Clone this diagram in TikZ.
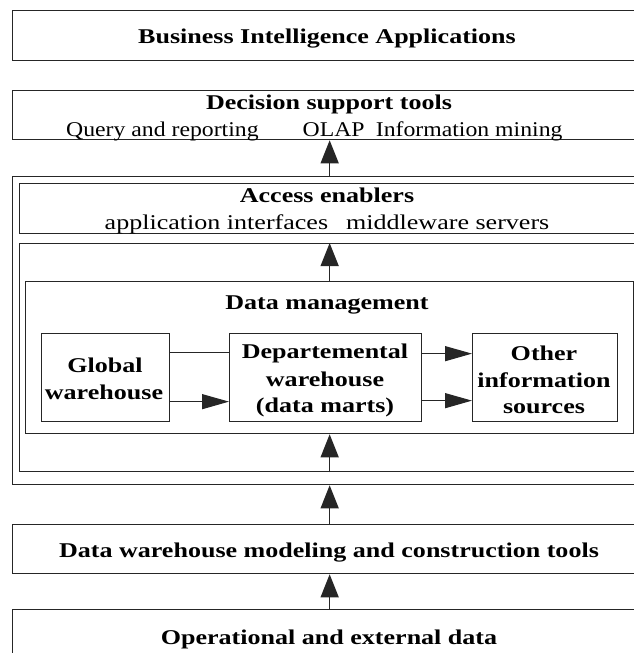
\documentclass[tikz,border=0pt]{standalone}
\usepackage{fontspec}
\setmainfont{Liberation Serif}
\usetikzlibrary{arrows.meta}
% labels are set slightly widened
\newcommand{\wide}[1]{\scalebox{1.24}[1]{#1}}
\newcommand{\semiwide}[1]{\scalebox{1.13}[1]{#1}}

\begin{document}
\begin{tikzpicture}[x=1pt,y=-1pt,
  box/.style={draw=black!85, line width=1.3pt, inner sep=0pt, anchor=north west},
  ttl/.style={anchor=base, inner sep=0pt, font=\fontsize{21}{24}\selectfont\bfseries},
  txt/.style={anchor=base, inner sep=0pt, font=\fontsize{21}{24}\selectfont},
  link/.style={draw=black!85, line width=1.3pt},
  varr/.style={link, -{Triangle[length=23pt,width=18pt]}},
  harr/.style={link, -{Triangle[length=27pt,width=15pt]}}]
\useasboundingbox (0,0) rectangle (634,653);
\clip (0,0) rectangle (634,653);

% layer boxes (they run past the right border)
\node[box, minimum width=634pt, minimum height=50pt] (bi)    at (12,10)  {};
\node[box, minimum width=634pt, minimum height=49pt] (dst)   at (12,90)  {};
\node[box, minimum width=634pt, minimum height=308pt] (outer) at (12,176) {};
\node[box, minimum width=620pt, minimum height=50pt] (acc)   at (19,183) {};
\node[box, minimum width=620pt, minimum height=228pt] (mid)  at (19,243) {};
\node[box, minimum width=608pt, minimum height=152pt] (dm)   at (25,281) {};
\node[box, minimum width=128pt, minimum height=88pt] (glob)  at (41,333) {};
\node[box, minimum width=192pt, minimum height=88pt] (dept)  at (229,333) {};
\node[box, minimum width=145pt, minimum height=88pt] (other) at (472,333) {};
\node[box, minimum width=634pt, minimum height=49pt] (dwm)   at (12,524) {};
\node[box, minimum width=634pt, minimum height=51pt] (oed)   at (12,609) {};

% texts
\node[ttl] (biT) at (327,43) {\wide{Business Intelligence Applications}};
\node[ttl] (dstT) at (329,109) {\wide{Decision support tools}};
\node[txt, anchor=base west] (dstL) at (66,136) {\semiwide{Query and reporting\hspace{39pt}OLAP\hspace{10pt}Information mining}};
\node[ttl] (accT) at (327,202) {\wide{Access enablers}};
\node[txt] (accL) at (327,229) {\wide{application interfaces\hspace{14.5pt}middleware servers}};
\node[ttl] (dmT) at (327,309) {\wide{Data management}};
\node[ttl] (globA) at (105,372) {\wide{Global}};
\node[ttl] (globB) at (104,399) {\wide{warehouse}};
\node[ttl] (deptA) at (325,358) {\wide{Departemental}};
\node[ttl] (deptB) at (325,386) {\wide{warehouse}};
\node[ttl] (deptC) at (325,412) {\wide{(data marts)}};
\node[ttl] (otherA) at (544,360) {\wide{Other}};
\node[ttl] (otherB) at (544,387) {\wide{information}};
\node[ttl] (otherC) at (544,413) {\wide{sources}};
\node[ttl] (dwmT) at (329,557) {\wide{Data warehouse modeling and construction tools}};
\node[ttl] (oedT) at (329,644) {\wide{Operational and external data}};

% connectors
\draw[varr] (outer.north) -- (dst.south);
\draw[varr] (dm.north) -- (mid.north);
\draw[varr] (mid.south) -- (dm.south);
\draw[varr] (dwm.north) -- (outer.south);
\draw[varr] (oed.north) -- (dwm.south);
\draw[link] ([yshift=25pt]glob.east) -- ([yshift=25pt]dept.west);
\draw[harr] ([yshift=-24pt]glob.east) -- ([yshift=-24pt]dept.west);
\draw[harr] ([yshift=24pt]dept.east) -- ([yshift=24pt]other.west);
\draw[harr] ([yshift=-23pt]dept.east) -- ([yshift=-23pt]other.west);
\end{tikzpicture}
\end{document}
